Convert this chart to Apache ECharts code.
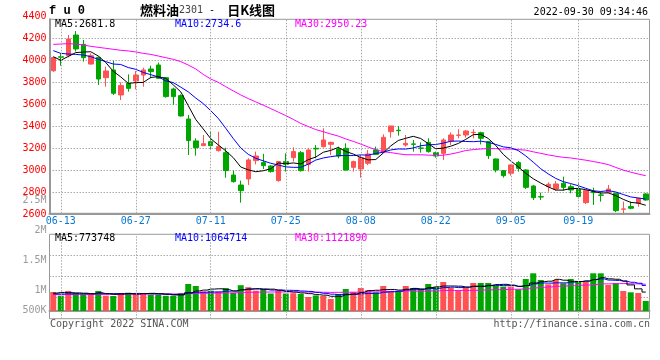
<!DOCTYPE html>
<html><head><meta charset="utf-8">
<script src="https://cdn.jsdelivr.net/npm/echarts@6/dist/echarts.min.js"></script>
<style>html,body{margin:0;padding:0;background:#fff}#c{width:660px;height:360px}</style>
</head><body><div id="c"></div>
<script>
const dates = ['06-10','06-13','06-14','06-15','06-16','06-17','06-20','06-21','06-22','06-23','06-24','06-27','06-28','06-29','06-30',
'07-01','07-04','07-05','07-06','07-07','07-08','07-11','07-12','07-13','07-14','07-15','07-18','07-19','07-20','07-21','07-22','07-25','07-26','07-27','07-28','07-29',
'08-01','08-02','08-03','08-04','08-05','08-08','08-09','08-10','08-11','08-12','08-15','08-16','08-17','08-18','08-19','08-22','08-23','08-24','08-25','08-26','08-29','08-30','08-31',
'09-01','09-02','09-05','09-06','09-07','09-08','09-09','09-13','09-14','09-15','09-16','09-19','09-20','09-21','09-22','09-23','09-26','09-27','09-28','09-29','09-30'];
const opens  = [3905,4032,4042,4230,4145,3966,4027,3842,3912,3685, 3791,3812,3866,3921,3957,3842,3739,3679,3466,3267, 3224,3260,3179,3160,2957,2866,2921,3088,3070,3039, 2906,3079,3115,3160,3054,3200,3215,3236,3194,3200, 3027,3012,3064,3185,3170,3351,3364,3230,3240,3203, 3254,3160,3154,3266,3318,3321,3342,3342,3260,3103, 2997,2973,3070,3003,2857,2760,2851,2830,2882,2851, 2827,2706,2806,2776,2800,2791,2646,2670,2700,2785];
const closes = [4025,4028,4194,4103,4024,4042,3830,3903,3700,3770, 3745,3866,3912,3897,3836,3670,3670,3494,3270,3206, 3242,3224,3215,2997,2897,2815,3094,3130,3042,2988, 3079,3055,3170,2997,3185,3194,3276,3254,3130,3003, 3079,3115,3148,3145,3300,3403,3360,3245,3236,3200, 3170,3130,3276,3321,3321,3357,3345,3291,3133,3003, 2951,3048,3018,2845,2751,2757,2873,2876,2845,2821, 2761,2815,2797,2773,2830,2633,2649,2655,2745,2730];
const lows   = [3895,3951,4027,4080,3988,3960,3776,3760,3685,3639, 3715,3736,3760,3836,3830,3660,3594,3488,3139,3133, 3224,3185,3170,2933,2888,2706,2867,3054,3012,2979, 2897,2988,3079,2988,2988,3109,3206,3139,3109,2997, 2988,2933,3048,3139,3164,3297,3315,3215,3170,3160, 3160,3115,3094,3230,3291,3297,3291,3236,3103,2982, 2933,2951,2988,2830,2730,2730,2806,2815,2815,2791, 2745,2694,2685,2715,2791,2620,2609,2645,2670,2724];
const highs  = [4030,4063,4230,4266,4185,4063,4033,3942,3994,3800, 3872,3903,3933,3951,3979,3842,3751,3691,3503,3291, 3321,3357,3351,3206,2997,2906,3109,3170,3150,3048, 3085,3154,3209,3176,3200,3230,3382,3260,3215,3245, 3088,3139,3185,3215,3327,3403,3403,3321,3276,3254, 3291,3170,3291,3345,3373,3366,3373,3351,3267,3106, 3003,3054,3085,3009,2867,2797,2891,2903,2942,2873, 2882,2821,2842,2806,2867,2797,2715,2715,2751,2791];
const ma5  = [4033,4000,4035,4070,4075,4078,4039,3980,3900,3849, 3790,3797,3799,3844,3851,3836,3777,3713,3588,3462, 3376,3287,3231,3177,3115,3030,3004,2987,2996,3014, 3067,3059,3067,3058,3097,3120,3164,3181,3208,3171, 3148,3116,3095,3098,3157,3222,3271,3291,3309,3289, 3242,3196,3202,3219,3244,3281,3324,3327,3289,3226, 3145,3085,3031,2973,2923,2884,2849,2820,2820,2834, 2835,2824,2808,2793,2795,2770,2736,2708,2702,2682];
const ma10 = [4088,4063,4057,4054,4048,4033,4009,3988,3966,3962, 3934,3918,3890,3869,3850,3813,3797,3756,3713,3657, 3606,3542,3472,3382,3289,3203,3145,3109,3086,3064, 3048,3031,3027,3027,3056,3093,3112,3124,3133,3134, 3134,3140,3138,3153,3164,3185,3194,3193,3203,3223, 3232,3234,3247,3264,3266,3262,3260,3265,3254,3235, 3213,3205,3179,3131,3074,3014,2967,2926,2897,2879, 2860,2836,2814,2807,2815,2803,2780,2758,2748,2739];
const ma30 = [4145,4148,4151,4148,4139,4127,4118,4109,4100,4091, 4085,4076,4063,4054,4039,4024,4009,3988,3957,3921, 3872,3830,3800,3760,3722,3685,3652,3622,3592,3561, 3529,3497,3463,3426,3398,3370,3351,3330,3311,3285, 3263,3238,3212,3187,3169,3161,3150,3142,3141,3141, 3138,3135,3137,3148,3162,3180,3188,3194,3197,3197, 3193,3193,3188,3183,3168,3154,3140,3128,3118,3112, 3102,3092,3080,3067,3052,3026,3002,2983,2966,2951];
// volumes in thousands of lots
const volumesK = [798,643,840,756,701,701,840,643,630,756, 769,756,756,672,672,638,638,748,1134,1050, 819,853,806,966,756,1084,1000,853,916,735, 853,735,748,714,588,651,630,504,714,924, 798,966,882,785,1050,840,840,1050,966,924, 1134,1008,1218,966,882,966,1176,1176,1176,1050, 1021,1021,911,1344,1583,1302,1121,1302,1163,1344, 1260,1231,1583,1583,1092,1176,840,785,756,420];
const volMa5K  = [750,780,770,760,748,728,768,728,703,714, 728,711,733,742,725,699,675,674,766,842, 878,921,932,899,840,893,922,932,922,918, 871,818,797,757,728,687,666,617,617,685, 714,781,857,871,896,905,879,913,949,924, 983,1016,1050,1050,1042,1008,1042,1033,1075,1109, 1120,1089,1036,1069,1176,1232,1252,1330,1294,1246, 1238,1260,1316,1400,1350,1333,1255,1095,930,795];
const volMa10K = [720,715,720,725,725,720,725,730,730,731, 728,739,731,722,720,713,693,704,754,783, 788,798,803,832,841,885,922,932,910,879, 882,870,865,839,823,779,742,707,687,706, 701,724,737,744,790,809,830,885,910,910, 944,948,982,1000,983,995,1029,1042,1063,1075, 1064,1065,1035,1072,1142,1176,1171,1183,1182,1211, 1235,1256,1323,1347,1298,1286,1257,1206,1165,1073];
const volMa30K = [690,690,690,695,695,695,700,700,700,700, 705,705,710,710,710,715,715,720,730,740, 745,750,755,760,765,775,785,790,795,798, 799,803,799,798,794,793,786,781,784,789, 790,797,802,805,818,825,831,841,836,832, 842,847,861,861,865,861,867,878,887,897, 903,912,918,939,972,994,1010,1037,1052,1066, 1081,1090,1113,1140,1141,1152,1152,1143,1136,1120];
const tickDates = ['06-13','06-27','07-11','07-25','08-08','08-22','09-05','09-19'];
const priceTicks = [2600, 4400, 200];      // min, max, step of the price labels
const volTicksK = [500, 2500, 500];        // min, max, step of the volume labels
const titleName = '燃料油', titleCode = '2301', titleKind = '日K线图', symbolText = 'f u 0';
const stampText = '2022-09-30 09:34:46';
const priceLegend = ['MA5:2681.8', 'MA10:2734.6', 'MA30:2950.23'];
const volLegend = ['MA5:773748', 'MA10:1064714', 'MA30:1121890'];

const RED = '#ff5353', GREEN = '#00a600', MONO = '"DejaVu Sans Mono", monospace';
const GRIDC = '#aaaaaa', DOT = [1.5, 1.5];
const L = 49.5, R = 10.5;
const kData = opens.map((o, i) => [o, closes[i], lows[i], highs[i]]);
const vLines = {
  silent: true, symbol: ['none', 'none'], label: { show: false },
  lineStyle: { color: GRIDC, type: DOT, width: 1 }, emphasis: { disabled: true },
  data: tickDates.map(d => ({ xAxis: d }))
};
const txt = (x, y, text, fill, align) => ({
  type: 'text', x: x, y: y, silent: true,
  style: { text: text, fill: fill, font: '10px ' + MONO, align: align || 'left', verticalAlign: 'middle',
           textAlign: align || 'left', textVerticalAlign: 'middle' }
});

const chart = echarts.init(document.getElementById('c'), null, { renderer: 'canvas' });
chart.setOption({
  animation: false,
  backgroundColor: '#fff',
  grid: [
    { left: L, right: R, top: 19.3, height: 194, show: true, borderColor: '#999', borderWidth: 1, backgroundColor: 'transparent' },
    { left: L, right: R, top: 234.3, height: 84.4, show: true, borderColor: '#999', borderWidth: 1, backgroundColor: 'transparent' },
    { left: L, right: R, top: 16.3, height: 198 },
    { left: L, right: R, top: 200.7, height: 120 }
  ],
  xAxis: [
    { type: 'category', gridIndex: 0, data: dates, boundaryGap: true,
      axisLine: { show: true, lineStyle: { color: '#999', width: 2 } }, axisTick: { show: false },
      axisLabel: { interval: (i, v) => tickDates.indexOf(v) >= 0, color: '#0a78d2', fontFamily: MONO, fontSize: 10, margin: 3 },
      splitLine: { show: false } },
    { type: 'category', gridIndex: 1, data: dates, boundaryGap: true,
      axisLine: { show: true, lineStyle: { color: '#999', width: 2 } }, axisTick: { show: false }, axisLabel: { show: false },
      splitLine: { show: false } },
    { type: 'value', gridIndex: 2, show: false, min: 0, max: 1 },
    { type: 'value', gridIndex: 3, show: false, min: 0, max: 1 }
  ],
  yAxis: [
    { type: 'value', gridIndex: 0, min: 4400 - 197 / 0.11, max: 4400 - 3 / 0.11, scale: true,
      axisLine: { show: true, lineStyle: { color: '#999', width: 2 } }, axisTick: { show: false },
      axisLabel: { show: false }, splitLine: { show: false } },
    { type: 'value', gridIndex: 1, min: -323.4, max: 3221.4, show: false, splitLine: { show: false } },
    { type: 'value', gridIndex: 2, min: priceTicks[0], max: priceTicks[1], interval: priceTicks[2],
      axisLine: { show: false }, axisTick: { show: false },
      axisLabel: { color: '#ff0000', fontFamily: MONO, fontSize: 10, margin: 3, formatter: v => String(v) },
      splitLine: { show: true, showMinLine: false, showMaxLine: false, lineStyle: { color: GRIDC, type: DOT, width: 1 } } },
    { type: 'value', gridIndex: 3, min: volTicksK[0], max: volTicksK[1], interval: volTicksK[2],
      axisLine: { show: false }, axisTick: { show: false }, splitLine: { show: false },
      axisLabel: { color: '#9a9a9a', fontFamily: MONO, fontSize: 10, margin: 3,
        formatter: v => v === volTicksK[0] ? '{s|' + v + 'K}' : (v / 1000) + 'M',
        rich: { s: { color: '#9a9a9a', fontFamily: MONO, fontSize: 10, padding: [0, 0, 20, 0] } } } },
    { type: 'value', gridIndex: 1, min: 0, max: 4, interval: 1,
      axisLine: { show: false }, axisTick: { show: false }, axisLabel: { show: false },
      splitLine: { show: true, showMinLine: false, showMaxLine: false, lineStyle: { color: GRIDC, type: DOT, width: 1 } } }
  ],
  series: [
    { type: 'candlestick', xAxisIndex: 0, yAxisIndex: 0, data: kData, barWidth: 5,
      itemStyle: { color: RED, color0: GREEN, borderColor: RED, borderColor0: GREEN, borderWidth: 1 },
      markLine: vLines, z: 2 },
    { type: 'line', xAxisIndex: 0, yAxisIndex: 0, data: ma30, symbol: 'none', lineStyle: { color: '#ff00ff', width: 1 }, z: 3 },
    { type: 'line', xAxisIndex: 0, yAxisIndex: 0, data: ma10, symbol: 'none', lineStyle: { color: '#0000ff', width: 1 }, z: 3 },
    { type: 'line', xAxisIndex: 0, yAxisIndex: 0, data: ma5, symbol: 'none', lineStyle: { color: '#000000', width: 1 }, z: 3 },
    { type: 'bar', xAxisIndex: 1, yAxisIndex: 1, data: volumesK, barWidth: 6,
      itemStyle: { color: p => closes[p.dataIndex] > opens[p.dataIndex] ? RED : GREEN },
      markLine: vLines, z: 2 },
    { type: 'line', xAxisIndex: 1, yAxisIndex: 1, data: volMa30K, step: 'middle', symbol: 'none', lineStyle: { color: '#ff00ff', width: 1 }, z: 3 },
    { type: 'line', xAxisIndex: 1, yAxisIndex: 1, data: volMa10K, step: 'middle', symbol: 'none', lineStyle: { color: '#0000ff', width: 1 }, z: 3 },
    { type: 'line', xAxisIndex: 1, yAxisIndex: 1, data: volMa5K, step: 'middle', symbol: 'none', lineStyle: { color: '#000000', width: 1 }, z: 3 }
  ],
  graphic: [
    { type: 'text', x: 49, y: 11, silent: true,
      style: { text: symbolText, fill: '#000', font: 'bold 12px "Liberation Mono", monospace', verticalAlign: 'middle', textVerticalAlign: 'middle' } },
    { type: 'text', x: 140, y: 10, silent: true,
      style: { text: '{a|' + titleName + '}{b|' + titleCode + '}{c| -  }{a|' + titleKind + '}', verticalAlign: 'middle', textVerticalAlign: 'middle',
        rich: { a: { fill: '#000', color: '#000', fontFamily: '"Noto Sans CJK SC"', fontSize: 13, fontWeight: 'bold' },
                b: { fill: '#444', color: '#444', fontFamily: MONO, fontSize: 10 },
                c: { fill: '#000', color: '#000', fontFamily: MONO, fontSize: 10 } } } },
    txt(648, 12, stampText, '#000', 'right'),
    txt(55, 24.5, priceLegend[0], '#000'),
    txt(175, 24.5, priceLegend[1], '#0000ff'),
    txt(295, 24.5, priceLegend[2], '#ff00ff'),
    txt(55, 238.5, volLegend[0], '#000'),
    txt(175, 238.5, volLegend[1], '#0000ff'),
    txt(295, 238.5, volLegend[2], '#ff00ff'),
    txt(50, 324.5, 'Copyright 2022 SINA.COM', '#555'),
    txt(650, 324.5, 'http://finance.sina.com.cn', '#555', 'right')
  ]
});
</script></body></html>
